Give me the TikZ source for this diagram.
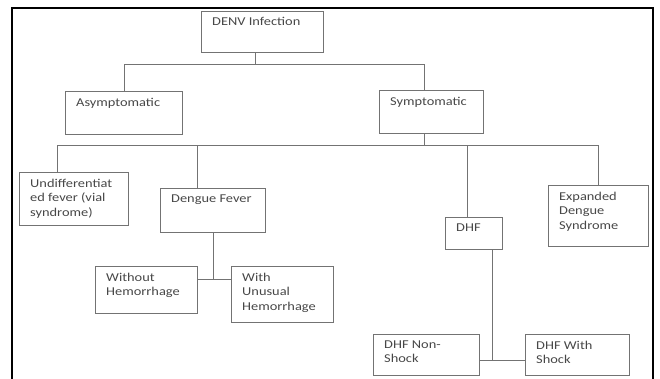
\documentclass[tikz,border=0pt]{standalone}
\usepackage{fontspec}
\setmainfont{Carlito}[FakeStretch=1.2]

\begin{document}
\begin{tikzpicture}
  [x=1pt, y=-1pt,
  box/.style={draw=black!55, line width=1.1pt, anchor=north west, inner sep=0pt},
  tag/.style={anchor=north west, inner xsep=11pt, inner ysep=6.5pt, align=left, text=black!72, font=\fontsize{12}{14.5}\selectfont},
  link/.style={draw=black!55, line width=1.1pt}]
  \useasboundingbox (0,0) rectangle (660,378);
  \draw[line width=1.6pt] (12,390) -- (12,8) -- (653,8) -- (653,390);

  \node[box, minimum width=122pt, minimum height=41pt, label={[tag]north west:DENV Infection}] (denv) at (201,11) {};
  \node[box, minimum width=117pt, minimum height=43pt, label={[tag]north west:Asymptomatic}] (asym) at (65,91) {};
  \node[box, minimum width=104pt, minimum height=43pt, label={[tag]north west:Symptomatic}] (sym) at (379,90) {};
  \node[box, minimum width=109pt, minimum height=53pt, label={[tag]north west:Undifferentiat\\ed fever (vial\\syndrome)}] (undiff) at (19,172) {};
  \node[box, minimum width=105pt, minimum height=44pt, label={[tag]north west:Dengue Fever}] (dengue) at (160,188) {};
  \node[box, minimum width=57pt, minimum height=32pt, label={[tag]north west:DHF}] (dhf) at (445,217) {};
  \node[box, minimum width=100pt, minimum height=61pt, label={[tag]north west:Expanded\\Dengue\\Syndrome}] (expanded) at (548,185) {};
  \node[box, minimum width=102pt, minimum height=47pt, label={[tag]north west:Without\\Hemorrhage}] (without) at (95,266) {};
  \node[box, minimum width=102pt, minimum height=56pt, label={[tag]north west:With\\Unusual\\Hemorrhage}] (withhem) at (231,266) {};
  \node[box, minimum width=106pt, minimum height=41pt, label={[tag]north west:DHF Non-\\Shock}] (nonshock) at (373,334) {};
  \node[box, minimum width=104pt, minimum height=41pt, label={[tag]north west:DHF With\\Shock}] (withshock) at (525,334) {};

  \draw[link] ([xshift=-7pt]denv.south) -- ++(0,11) coordinate (split1);
  \draw[link] (asym.north) |- (split1) -| ([xshift=-7pt]sym.north);

  \draw[link] ([xshift=-7pt]sym.south) -- ++(0,11) coordinate (split2);
  \draw[link] ([xshift=-17pt]undiff.north) |- (split2) -| (expanded.north);
  \coordinate (dftop) at ([xshift=-16pt]dengue.north);
  \coordinate (dhftop) at ([xshift=-7pt]dhf.north);
  \draw[link] (dftop) -- (dftop |- split2);
  \draw[link] (dhftop) -- (dhftop |- split2);

  \draw[link] (dengue.south) -- ++(0,46) coordinate (split3);
  \draw[link] (without.east |- split3) -- (withhem.west |- split3);

  \draw[link] ([xshift=18pt]dhf.south) -- ++(0,110) coordinate (split4);
  \draw[link] (nonshock.east |- split4) -- (withshock.west |- split4);
\end{tikzpicture}
\end{document}
